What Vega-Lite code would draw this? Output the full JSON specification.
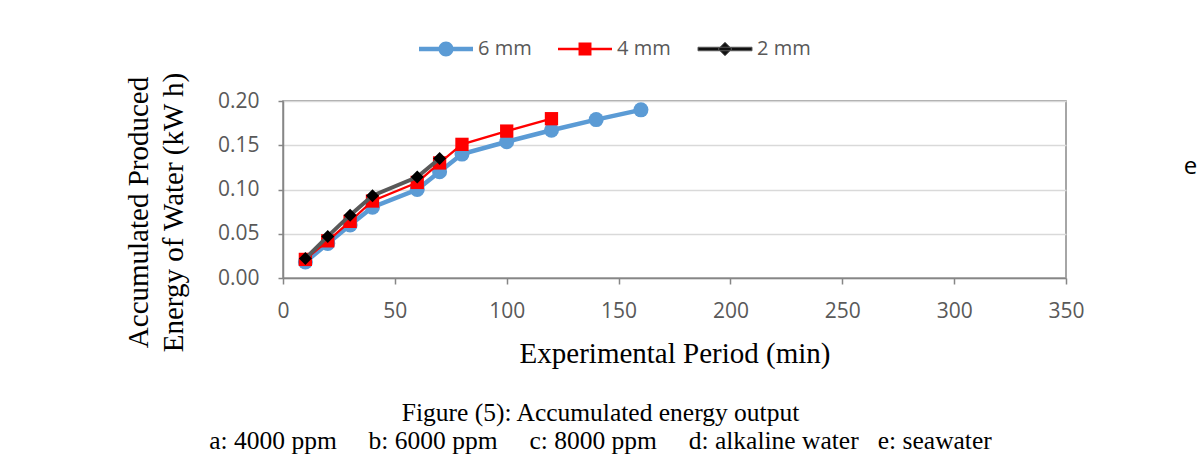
{
  "$schema": "https://vega.github.io/schema/vega-lite/v6.json",
  "width": 783,
  "height": 177,
  "autosize": {"type": "none"},
  "padding": {"left": 283, "top": 101, "right": 134, "bottom": 177},
  "background": "white",
  "config": {
    "view": {"stroke": "#898989", "strokeWidth": 1.5},
    "font": "Open Sans"
  },
  "title": {
    "text": ["Figure (5): Accumulated energy output", "a: 4000 ppm\u00a0\u00a0\u00a0\u00a0 b: 6000 ppm\u00a0\u00a0\u00a0\u00a0 c: 8000 ppm\u00a0\u00a0\u00a0\u00a0 d: alkaline water\u00a0\u00a0 e: seawater"],
    "orient": "bottom",
    "anchor": "middle",
    "frame": "group",
    "dx": -74,
    "offset": 33,
    "font": "Liberation Serif",
    "fontSize": 25.5,
    "fontWeight": "normal",
    "color": "#000000",
    "lineHeight": 28
  },
  "datasets": {
    "energy": [
      {"period": 10, "energy": 0.018, "series": "6 mm"},
      {"period": 20, "energy": 0.039, "series": "6 mm"},
      {"period": 30, "energy": 0.060, "series": "6 mm"},
      {"period": 40, "energy": 0.080, "series": "6 mm"},
      {"period": 60, "energy": 0.100, "series": "6 mm"},
      {"period": 70, "energy": 0.120, "series": "6 mm"},
      {"period": 80, "energy": 0.140, "series": "6 mm"},
      {"period": 100, "energy": 0.154, "series": "6 mm"},
      {"period": 120, "energy": 0.167, "series": "6 mm"},
      {"period": 140, "energy": 0.179, "series": "6 mm"},
      {"period": 160, "energy": 0.190, "series": "6 mm"},
      {"period": 10, "energy": 0.021, "series": "4 mm"},
      {"period": 20, "energy": 0.042, "series": "4 mm"},
      {"period": 30, "energy": 0.064, "series": "4 mm"},
      {"period": 40, "energy": 0.087, "series": "4 mm"},
      {"period": 60, "energy": 0.108, "series": "4 mm"},
      {"period": 70, "energy": 0.130, "series": "4 mm"},
      {"period": 80, "energy": 0.151, "series": "4 mm"},
      {"period": 100, "energy": 0.166, "series": "4 mm"},
      {"period": 120, "energy": 0.180, "series": "4 mm"},
      {"period": 10, "energy": 0.022, "series": "2 mm"},
      {"period": 20, "energy": 0.047, "series": "2 mm"},
      {"period": 30, "energy": 0.071, "series": "2 mm"},
      {"period": 40, "energy": 0.093, "series": "2 mm"},
      {"period": 60, "energy": 0.114, "series": "2 mm"},
      {"period": 70, "energy": 0.135, "series": "2 mm"}
    ]
  },
  "data": {"name": "energy"},
  "resolve": {"axis": {"y": "independent"}},
  "encoding": {
    "x": {
      "field": "period",
      "type": "quantitative",
      "scale": {"domain": [0, 350], "nice": false, "zero": true},
      "axis": {
        "values": [0, 50, 100, 150, 200, 250, 300, 350],
        "grid": false,
        "labelFont": "Open Sans",
        "labelFontSize": 21,
        "labelColor": "#595959",
        "labelPadding": 16,
        "labelFlush": false,
        "tickSize": 6,
        "tickColor": "#868686",
        "tickWidth": 1.5,
        "domainColor": "#868686",
        "domainWidth": 1.5,
        "title": "Experimental Period (min)",
        "titleFont": "Liberation Serif",
        "titleFontSize": 29,
        "titleFontWeight": "normal",
        "titleColor": "#000000",
        "titleBaseline": "alphabetic",
        "titleY": 84
      }
    },
    "y": {
      "field": "energy",
      "type": "quantitative",
      "scale": {"domain": [0, 0.2], "nice": false}
    }
  },
  "layer": [
    {
      "transform": [{"filter": "datum.series === '6 mm'"}],
      "mark": {"type": "line", "strokeWidth": 4.5},
      "encoding": {
        "y": {
          "field": "energy",
          "type": "quantitative",
          "axis": {
            "values": [0, 0.05, 0.1, 0.15, 0.2],
            "format": ".2f",
            "grid": true,
            "gridColor": "#D9D9D9",
            "gridWidth": 1.5,
            "labelFont": "Open Sans",
            "labelFontSize": 21,
            "labelColor": "#595959",
            "labelPadding": 19,
            "labelFlush": false,
            "tickSize": 5,
            "tickColor": "#868686",
            "tickWidth": 1.5,
            "domainColor": "#868686",
            "domainWidth": 1.5,
            "title": ["Accumulated Produced", "Energy of Water (kW h)"],
            "titleFont": "Liberation Serif",
            "titleFontSize": 29,
            "titleFontWeight": "normal",
            "titleColor": "#000000",
            "titleLineHeight": 35,
            "titleAngle": -90,
            "titleAlign": "center",
            "titleBaseline": "middle",
            "titleX": -145,
            "titleY": 111
          }
        },
        "color": {
          "field": "series",
          "type": "nominal",
          "scale": {"domain": ["6 mm", "4 mm", "2 mm"], "range": ["#5B9BD5", "#FF0000", "#595959"]},
          "legend": {
            "title": null,
            "orient": "none",
            "direction": "horizontal",
            "legendX": 135,
            "legendY": -62,
            "symbolSize": 2916,
            "symbolStrokeWidth": 0,
            "symbolOffset": 18,
            "labelFont": "Open Sans",
            "labelFontSize": 20,
            "labelColor": "#595959",
            "labelOffset": 22,
            "columnPadding": 25,
            "encode": {
              "symbols": {
                "update": {
                  "shape": {"signal": "datum.value === '6 mm' ? 'M-1,-0.083H1V0.083H-1Z M-0.278,0A0.278,0.278 0 1,1 0.278,0A0.278,0.278 0 1,1 -0.278,0Z' : datum.value === '4 mm' ? 'M-1,-0.045H1V0.045H-1Z M-0.24,-0.24H0.24V0.24H-0.24Z' : 'M-1,-0.065H1V0.065H-1Z M0,-0.25L0.25,0L0,0.25L-0.25,0Z'"},
                  "fill": {"signal": "datum.value === '6 mm' ? '#5B9BD5' : datum.value === '4 mm' ? '#FF0000' : '#111111'"},
                  "stroke": {"signal": "datum.value === '2 mm' ? '#595959' : 'transparent'"},
                  "strokeWidth": {"signal": "datum.value === '2 mm' ? 1 : 0"},
                  "opacity": {"value": 1}
                }
              }
            }
          }
        }
      }
    },
    {
      "transform": [{"filter": "datum.series === '6 mm'"}],
      "mark": {"type": "point", "shape": "circle", "filled": true, "size": 225, "color": "#5B9BD5", "opacity": 1},
      "encoding": {
        "y": {
          "field": "energy",
          "type": "quantitative",
          "axis": {
            "orient": "right",
            "labels": false,
            "ticks": false,
            "domain": false,
            "grid": false,
            "title": "e",
            "titleFont": "Open Sans",
            "titleFontSize": 24,
            "titleFontWeight": "normal",
            "titleColor": "#000000",
            "titleAngle": 0,
            "titleAlign": "center",
            "titleBaseline": "middle",
            "titleX": 124,
            "titleY": 65
          }
        }
      }
    },
    {
      "transform": [{"filter": "datum.series === '4 mm'"}],
      "mark": {"type": "line", "strokeWidth": 2.25},
      "encoding": {
        "y": {"field": "energy", "type": "quantitative", "axis": null},
        "color": {"field": "series", "type": "nominal"}
      }
    },
    {
      "transform": [{"filter": "datum.series === '4 mm'"}],
      "mark": {"type": "point", "shape": "square", "filled": true, "size": 177, "color": "#FF0000", "opacity": 1},
      "encoding": {
        "y": {"field": "energy", "type": "quantitative", "axis": null}
      }
    },
    {
      "transform": [{"filter": "datum.series === '2 mm'"}],
      "mark": {"type": "line", "strokeWidth": 4},
      "encoding": {
        "y": {"field": "energy", "type": "quantitative", "axis": null},
        "color": {"field": "series", "type": "nominal"}
      }
    },
    {
      "transform": [{"filter": "datum.series === '2 mm'"}],
      "mark": {"type": "point", "shape": "diamond", "filled": true, "size": 169, "color": "#000000", "opacity": 1},
      "encoding": {
        "y": {"field": "energy", "type": "quantitative", "axis": null}
      }
    }
  ]
}
